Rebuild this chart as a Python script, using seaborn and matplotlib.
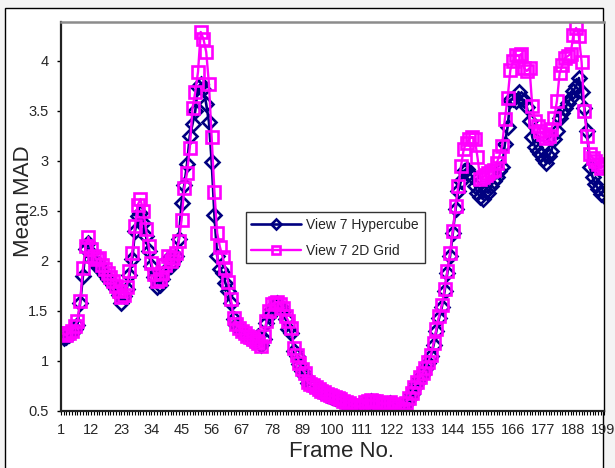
import numpy as np
import pandas as pd
import matplotlib
matplotlib.use("Agg")
import matplotlib.pyplot as plt
import matplotlib.patches as mpatches
from matplotlib.ticker import FixedLocator, MultipleLocator
import seaborn as sns

# --------------------------------------------------------------------------
# Data
# --------------------------------------------------------------------------
frames = list(range(1, 200))
x_tick_labels = list(range(1, 200, 11))
y_ticks = [0.5, 1, 1.5, 2, 2.5, 3, 3.5, 4]

hypercube = [
    1.27, 1.23, 1.24, 1.26, 1.28, 1.32, 1.36, 1.58, 1.85, 2.12,
    2.18, 2.08, 2.00, 1.95, 1.97, 1.90, 1.86, 1.82, 1.80, 1.76,
    1.72, 1.66, 1.58, 1.65, 1.72, 1.86, 2.02, 2.30, 2.45, 2.48,
    2.38, 2.25, 2.10, 1.95, 1.84, 1.74, 1.76, 1.82, 1.90, 2.02,
    1.95, 2.00, 2.05, 2.22, 2.58, 2.76, 2.97, 3.25, 3.37, 3.50,
    3.74, 3.77, 3.72, 3.57, 3.39, 2.99, 2.46, 2.05, 1.92, 1.88,
    1.78, 1.70, 1.58, 1.42, 1.36, 1.32, 1.28, 1.27, 1.24, 1.22,
    1.20, 1.22, 1.25, 1.16, 1.22, 1.38, 1.45, 1.52, 1.56, 1.58,
    1.55, 1.50, 1.42, 1.32, 1.28, 1.10, 1.05, 0.97, 0.90, 0.85,
    0.78, 0.76, 0.75, 0.72, 0.71, 0.69, 0.68, 0.66, 0.65, 0.64,
    0.63, 0.62, 0.61, 0.59, 0.58, 0.57, 0.55, 0.54, 0.53, 0.54,
    0.55, 0.58, 0.59, 0.60, 0.59, 0.59, 0.57, 0.57, 0.56, 0.57,
    0.58, 0.56, 0.54, 0.52, 0.50, 0.51, 0.57, 0.62, 0.67, 0.73,
    0.78, 0.83, 0.87, 0.92, 0.98, 1.05, 1.16, 1.30, 1.43, 1.54,
    1.70, 1.88, 2.05, 2.28, 2.52, 2.70, 2.80, 2.90, 2.92, 2.88,
    2.85, 2.75, 2.68, 2.64, 2.62, 2.70, 2.68, 2.75, 2.80, 2.84,
    2.90, 2.94, 3.17, 3.34, 3.61, 3.62, 3.60, 3.69, 3.62, 3.61,
    3.54, 3.40, 3.24, 3.14, 3.10, 3.07, 3.02, 2.98, 3.05, 3.10,
    3.22, 3.30, 3.43, 3.48, 3.53, 3.58, 3.63, 3.70, 3.75, 3.83,
    3.69, 3.53, 3.30, 2.94, 2.84, 2.77, 2.72, 2.67, 2.65,
]

grid_2d = [
    1.28, 1.27, 1.26, 1.28, 1.30, 1.35, 1.40, 1.60, 1.93, 2.15,
    2.24, 2.12, 2.05, 2.02, 2.03, 1.96, 1.92, 1.88, 1.84, 1.80,
    1.75, 1.70, 1.64, 1.66, 1.74, 1.90, 2.08, 2.35, 2.56, 2.62,
    2.50, 2.32, 2.15, 1.98, 1.87, 1.80, 1.82, 1.88, 1.96, 2.05,
    2.00, 2.03, 2.08, 2.20, 2.41, 2.73, 2.88, 3.13, 3.53, 3.69,
    3.89, 4.29, 4.22, 4.09, 3.77, 3.24, 2.69, 2.28, 2.14, 2.04,
    1.93, 1.79, 1.62, 1.43, 1.37, 1.33, 1.30, 1.28, 1.25, 1.24,
    1.22, 1.20, 1.18, 1.15, 1.25, 1.40, 1.50, 1.57, 1.58, 1.59,
    1.57, 1.53, 1.45, 1.40, 1.33, 1.13, 1.06, 0.98, 0.92, 0.88,
    0.79, 0.77, 0.76, 0.74, 0.72, 0.70, 0.69, 0.67, 0.66, 0.65,
    0.64, 0.63, 0.62, 0.60, 0.59, 0.58, 0.56, 0.55, 0.54, 0.55,
    0.56, 0.59, 0.60, 0.61, 0.60, 0.60, 0.58, 0.58, 0.57, 0.58,
    0.59, 0.57, 0.55, 0.53, 0.50, 0.52, 0.58, 0.63, 0.68, 0.74,
    0.79, 0.84, 0.88, 0.93, 0.99, 1.06, 1.18, 1.32, 1.45, 1.56,
    1.72, 1.90, 2.08, 2.30, 2.55, 2.75, 2.95, 3.12, 3.18, 3.22,
    3.24, 3.22, 3.04, 2.82, 2.84, 2.86, 2.88, 2.90, 2.91, 2.98,
    3.05, 3.15, 3.42, 3.63, 3.91, 4.00, 4.06, 4.05, 4.07, 3.93,
    3.90, 3.93, 3.55, 3.40, 3.35, 3.30, 3.27, 3.23, 3.25, 3.32,
    3.43, 3.60, 3.88, 3.96, 4.03, 4.05, 4.07, 4.26, 4.33, 4.25,
    3.99, 3.50, 3.25, 3.07, 3.03, 3.00, 2.97, 2.93, 2.95,
]

# --------------------------------------------------------------------------
# Style
# --------------------------------------------------------------------------
sns.set_style("white")
plt.rcParams["font.family"] = ["Liberation Sans", "DejaVu Sans"]

fig = plt.figure(figsize=(6.15, 4.68), dpi=100)
fig.patch.set_facecolor("#f4f4f4")

# white chart area with a thin black border (Excel chart area)
chart_area = mpatches.Rectangle((5 / 615, -0.05), (603 - 5) / 615, 1 - 8 / 468 + 0.05,
                                transform=fig.transFigure, facecolor="white",
                                edgecolor="black", linewidth=1.0, zorder=-10)
fig.add_artist(chart_area)

ax = fig.add_axes([61 / 615, 1 - 411 / 468, (603.5 - 61) / 615, (411 - 22) / 468])
ax.set_zorder(1)
ax.set_facecolor("white")

sns.lineplot(x=frames, y=hypercube, ax=ax, color="#000080", linewidth=1.9,
             marker="D", markersize=7.6, markerfacecolor="none",
             markeredgecolor="#000080", markeredgewidth=1.9,
             label="View 7 Hypercube")
sns.lineplot(x=frames, y=grid_2d, ax=ax, color="#ff00ff", linewidth=1.7,
             marker="s", markersize=8.2, markerfacecolor="none",
             markeredgecolor="#ff00ff", markeredgewidth=1.9,
             label="View 7 2D Grid")

ax.set_xlim(1, 199)
ax.set_ylim(0.5, 4.39)

ax.xaxis.set_major_locator(FixedLocator(x_tick_labels))
ax.xaxis.set_minor_locator(MultipleLocator(1))
ax.set_xticklabels([str(v) for v in x_tick_labels])
ax.set_yticks(y_ticks)
ax.set_yticklabels(["0.5", "1", "1.5", "2", "2.5", "3", "3.5", "4"])

ax.tick_params(axis="x", which="both", direction="out", length=3, width=0.8,
               color="black", pad=6, labelsize=10.5, bottom=True)
ax.tick_params(axis="y", which="major", direction="out", length=3, width=1,
               color="black", pad=6, labelsize=10.5, left=True)

for side in ["left", "bottom"]:
    ax.spines[side].set_color("#222222")
    ax.spines[side].set_linewidth(1.6)
ax.spines["top"].set_color("#8c8c8c")
ax.spines["top"].set_linewidth(1.8)
ax.spines["right"].set_color("black")
ax.spines["right"].set_linewidth(1.0)

ax.set_xlabel("Frame No.", fontsize=16)
ax.set_ylabel("Mean MAD", fontsize=16)
ax.xaxis.set_label_coords(0.517, -0.103)
ax.xaxis.label.set_va("center")
ax.yaxis.set_label_coords(-0.07, 0.54)
ax.yaxis.label.set_va("center")

leg = ax.legend(loc="center", bbox_to_anchor=(0.5055, 0.445), fontsize=10,
                frameon=True, fancybox=False, edgecolor="black",
                handlelength=3.6, handletextpad=0.35, borderpad=0.4,
                labelspacing=0.85, markerscale=0.65)
leg.get_frame().set_linewidth(1.0)

fig.savefig("out.png", dpi=100, facecolor=fig.get_facecolor())
